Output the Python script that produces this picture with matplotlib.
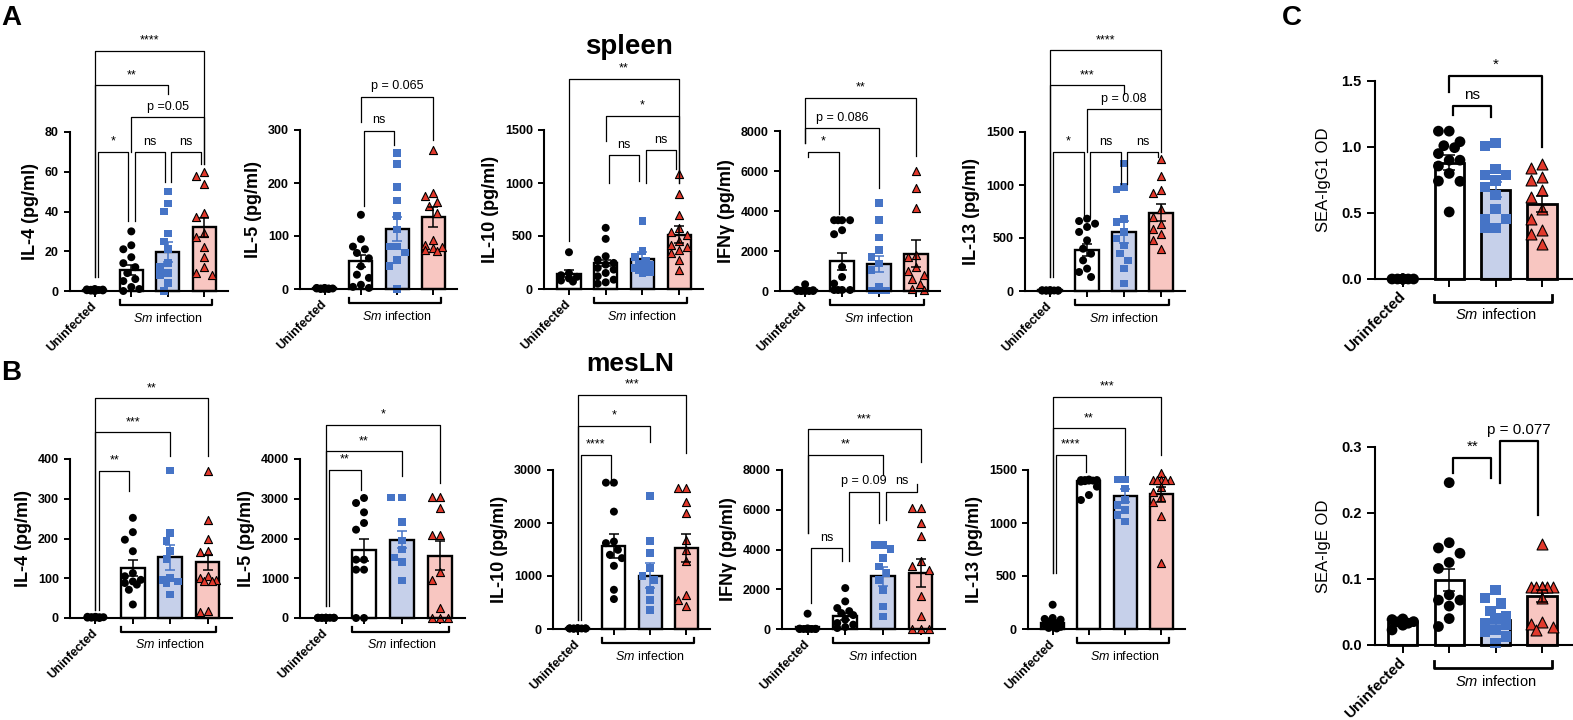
import numpy as np
import matplotlib.pyplot as plt
from matplotlib.transforms import offset_copy

plt.rcParams['font.family'] = ['Liberation Sans', 'DejaVu Sans']
plt.rcParams['mathtext.fontset'] = 'custom'
plt.rcParams['mathtext.it'] = 'Liberation Sans:italic'
plt.rcParams['mathtext.rm'] = 'Liberation Sans'

W, H = 1573, 720

# ---------------- data ----------------
# group order: Uninfected, Sm group 1 (white), Sm group 2 (blue), Sm group 3 (red)
# sig brackets: (bar i, bar j, level, leg end at i, leg end at j, label)

# A  spleen
spl_il4_mean = [0.5, 10.6, 19.8, 32.0]
spl_il4_sem = [0.15, 2.7, 5.0, 4.6]
spl_il4_pts = [[0, 0.3, 0.5, 0.7, 0.4, 0.8, 0.2, 1.0, 0.6, 0.5],
               [30, 23, 21, 17, 14, 12, 9, 6, 5, 2, 1, 0],
               [50, 44, 40, 29, 25, 21, 14, 12, 9, 8, 4, 0],
               [60, 58, 54, 39, 37, 29, 27, 22, 17, 12, 9, 8]]
spl_il4_sig = [(0, 3, 121, 7, 64, '****'), (0, 2, 103.5, 7, 99, '**'),
               (1, 3, 87.7, 70, 64, 'p =0.05'), (0, 1, 70, 7, 35, '*'),
               (1, 2, 70, 35, 55, 'ns'), (2, 3, 70, 55, 64, 'ns')]

spl_il5_mean = [1, 53, 113, 136]
spl_il5_sem = [0.3, 11, 22, 19]
spl_il5_pts = [[1, 0, 2, 1, 0, 1, 2, 0, 1, 1],
               [140, 94, 80, 75, 68, 58, 43, 27, 21, 8, 4, 2],
               [257, 236, 192, 167, 138, 112, 80, 80, 69, 55, 43, 0],
               [262, 181, 175, 165, 156, 143, 93, 83, 80, 77, 74, 71]]
spl_il5_sig = [(1, 3, 363, 316, 281, 'p = 0.065'), (1, 2, 299, 156, 272, 'ns')]

spl_il10_mean = [145, 246, 287, 514]
spl_il10_sem = [31, 31, 60, 80]
spl_il10_pts = [[347, 150, 130, 115, 100, 80, 70],
                [577, 473, 309, 277, 246, 230, 199, 183, 151, 120, 88, 63, 50],
                [640, 356, 300, 262, 240, 230, 214, 200, 189, 176, 160, 151],
                [1081, 898, 700, 577, 540, 514, 451, 419, 400, 372, 340, 277, 176]]
spl_il10_sig = [(0, 3, 1985, 450, 1000, '**'), (1, 3, 1632, 1396, 1000, '*'),
                (1, 2, 1261, 1002, 1018, 'ns'), (2, 3, 1311, 1002, 1128, 'ns')]

spl_ifng_mean = [50, 1490, 1336, 1870]
spl_ifng_sem = [30, 430, 400, 670]
spl_ifng_pts = [[334, 60, 40, 20, 10, 0, 0, 0, 0, 0],
                [3540, 3540, 3540, 3540, 3040, 2840, 1200, 700, 370, 50, 50, 50, 50],
                [4409, 3540, 2672, 2037, 1703, 1369, 1035, 200, 30, 30, 30, 30, 30],
                [6012, 5160, 4175, 1800, 1700, 1200, 1000, 785, 600, 370, 100, 30]]
spl_ifng_sig = [(0, 3, 9670, 7381, 6747, '**'), (0, 2, 8133, 7381, 5127, 'p = 0.086'),
                (0, 1, 6964, 6700, 3874, '*')]

spl_il13_mean = [5, 390, 557, 739]
spl_il13_sem = [1, 57, 103, 79]
spl_il13_pts = [[5, 3, 8, 2, 6, 4, 7, 5, 3, 6],
                [682, 660, 635, 604, 557, 478, 399, 352, 289, 211, 179, 132],
                [1201, 981, 956, 682, 651, 557, 494, 431, 352, 289, 211, 69],
                [1248, 1082, 956, 925, 777, 698, 635, 588, 541, 478, 399]]
spl_il13_sig = [(0, 3, 2270, 132, 1720, '****'), (0, 2, 1940, 132, 1855, '***'),
                (1, 3, 1720, 1311, 1311, 'p = 0.08'), (0, 1, 1311, 132, 698, '*'),
                (1, 2, 1311, 698, 1012, 'ns'), (2, 3, 1311, 1012, 1264, 'ns')]

# B  mesLN
mln_il4_mean = [1, 126, 153, 140]
mln_il4_sem = [0.3, 21, 31, 19]
mln_il4_pts = [[2, 1, 3, 0, 2, 1, 2, 3, 1, 2],
               [252, 216, 197, 168, 113, 105, 96, 92, 88, 84, 71, 34],
               [371, 214, 193, 168, 148, 100, 96, 92, 88, 59],
               [371, 246, 199, 168, 165, 105, 100, 96, 94, 92, 17, 14]]
mln_il4_sig = [(0, 3, 553, 21, 407, '**'), (0, 2, 467, 21, 407, '***'),
               (0, 1, 371, 21, 319, '**')]

mln_il5_mean = [5, 1719, 1971, 1568]
mln_il5_sem = [1, 277, 209, 361]
mln_il5_pts = [[6, 4, 5, 7, 3, 5, 6, 4, 5, 5],
               [3019, 2893, 2658, 2390, 2222, 1468, 1468, 1216, 1216, 0, 0],
               [3036, 3036, 2415, 1945, 1719, 1526, 1409, 939],
               [3036, 3036, 2767, 2096, 2096, 1149, 964, 252, 0, 0, 0]]
mln_il5_sig = [(0, 3, 4864, 293, 3396, '*'), (0, 2, 4193, 293, 3564, '**'),
               (0, 1, 3732, 293, 3228, '**')]

mln_il10_mean = [10, 1568, 1004, 1525]
mln_il10_sem = [3, 228, 239, 270]
mln_il10_pts = [[8, 12, 10, 5, 15, 10, 9, 11, 10, 10],
                [2761, 2761, 2215, 1650, 1620, 1494, 1400, 1337, 1192, 740, 565],
                [2511, 1663, 1431, 1149, 1004, 929, 740, 552, 364],
                [2655, 2655, 2403, 2196, 1682, 1494, 1274, 646, 552, 426]]
mln_il10_sig = [(0, 3, 4420, 175, 3314, '***'), (0, 2, 3834, 175, 3533, '*'),
                (0, 1, 3282, 175, 2717, '****')]

mln_ifng_mean = [80, 636, 2644, 2814]
mln_ifng_sem = [60, 170, 470, 720]
mln_ifng_pts = [[770, 30, 20, 10, 0, 0, 0, 0, 0, 0],
                [2059, 1389, 1054, 900, 803, 700, 469, 300, 218, 100, 50],
                [4234, 4234, 4033, 3565, 3146, 2812, 2477, 1975, 1138, 636],
                [6111, 6111, 5327, 4688, 3397, 3146, 2980, 1638, 633, 0, 0, 0]]
mln_ifng_sig = [(0, 3, 10042, 4820, 8422, '***'), (0, 2, 8753, 4820, 7749, '**'),
                (0, 1, 4067, 1300, 3397, 'ns'), (1, 2, 6912, 3397, 5322, 'p = 0.09'),
                (2, 3, 6912, 5490, 7300, 'ns')]

mln_il13_mean = [56, 1395, 1258, 1271]
mln_il13_sem = [20, 20, 63, 72]
mln_il13_pts = [[229, 104, 95, 88, 70, 56, 40, 30, 20, 10, 5],
                [1410, 1405, 1405, 1405, 1400, 1400, 1395, 1390, 1343, 1264, 1217],
                [1412, 1412, 1327, 1217, 1170, 1123, 1076, 1013],
                [1468, 1405, 1405, 1405, 1405, 1405, 1343, 1296, 1249, 1202, 1067, 621]]
mln_il13_sig = [(0, 3, 2190, 527, 1641, '***'), (0, 2, 1892, 527, 1453, '**'),
                (0, 1, 1641, 527, 1484, '****')]

# C  serum SEA-specific antibodies
igg1_mean = [0.0, 0.881, 0.677, 0.571]
igg1_sem = [0.0, 0.056, 0.058, 0.06]
igg1_pts = [[0, 0, 0, 0, 0, 0, 0, 0, 0, 0],
            [1.12, 1.12, 1.04, 1.01, 0.995, 0.95, 0.90, 0.90, 0.856, 0.80, 0.742, 0.74, 0.508],
            [1.03, 1.01, 0.836, 0.79, 0.79, 0.747, 0.697, 0.634, 0.533, 0.457, 0.457, 0.386, 0.386],
            [0.869, 0.843, 0.773, 0.747, 0.672, 0.621, 0.533, 0.457, 0.369, 0.343, 0.268]]
igg1_sig = [(1, 3, 1.535, 1.417, 1.0, '*'), (1, 2, 1.308, 1.24, 1.227, 'ns')]

ige_mean = [0.0339, 0.0987, 0.038, 0.0744]
ige_sem = [0.003, 0.017, 0.0075, 0.0086]
ige_pts = [[0.0395, 0.0385, 0.0354, 0.035, 0.033, 0.030, 0.0228],
           [0.246, 0.155, 0.147, 0.139, 0.125, 0.116, 0.076, 0.068, 0.068, 0.059, 0.040, 0.028],
           [0.083, 0.071, 0.063, 0.051, 0.043, 0.040, 0.033, 0.030, 0.023, 0.020, 0.013, 0.003],
           [0.153, 0.0885, 0.0885, 0.0885, 0.0885, 0.0885, 0.0885, 0.071, 0.035, 0.032, 0.028, 0.023]]
ige_sig = [(1, 2, 0.2833, 0.2605, 0.253, '**'), (2, 3, 0.3086, 0.245, 0.197, 'p = 0.077')]

# ---------------- styling ----------------
BLUE = '#4674c6'
RED = '#e2392c'
FILLS = ['white', 'white', '#c6d0ea', '#f8c6c1']
ECOL = ['black', 'black', BLUE, 'black']


def swarm(vals, ytop, hpx, upx, diam, maxoff=0.3):
    # spread points sideways so that they do not overlap (in pixels)
    vals = np.asarray(vals, float)
    step = diam * 0.5 / upx
    cands = [0.0]
    k = 1
    while k * step <= maxoff:
        cands += [-k * step, k * step]
        k += 1
    placed = []
    offs = np.zeros(len(vals))
    for idx in np.argsort(-vals, kind='stable'):
        y = vals[idx] / ytop * hpx
        best, bestc, bestd = None, 0.0, -1
        for c in cands:
            d = min([np.hypot((c - o) * upx, y - py) for o, py in placed], default=1e9)
            if d >= diam * 1.15:
                best = c
                break
            if d > bestd:
                bestd, bestc = d, c
        if best is None:
            best = bestc
        placed.append((best, y))
        offs[idx] = best
    return offs


def panel(fig, geom, mean, sem, pts, sig, yticks, ylabel, big=False):
    l, r, t, b = geom
    ax = fig.add_axes([l / W, 1 - b / H, (r - l) / W, (b - t) / H])
    xl = (-0.6, 3.67) if big else (-0.68, 3.65)
    ax.set_xlim(*xl)
    ytop = yticks[-1]
    ax.set_ylim(0, ytop)
    hpx, wpx = b - t, r - l
    upx = wpx / (xl[1] - xl[0])
    x = np.arange(4)

    ax.bar(x, mean, width=0.63, color=FILLS, edgecolor='black',
           linewidth=2.0 if big else 1.7, zorder=1, clip_on=False)
    sc = 1.35 if big else 1.0
    marks = [('o', 'black', 'none', 33), ('o', 'black', 'none', 33),
             ('s', BLUE, 'none', 30), ('^', RED, 'black', 34)]
    for k in range(4):
        m, fc, ec, s = marks[k]
        diam = np.sqrt(s * sc * sc) / 0.72
        offs = swarm(pts[k], ytop, hpx, upx, diam)
        ax.scatter(k + offs, pts[k], marker=m, s=s * sc * sc, facecolor=fc,
                   edgecolor=ec, linewidth=0.8 if ec != 'none' else 0,
                   zorder=2, clip_on=False)
        ax.errorbar(k, mean[k], yerr=sem[k], fmt='none', ecolor=ECOL[k],
                    elinewidth=1.1, capsize=4.5 if big else 3.6, capthick=1.1,
                    zorder=3, clip_on=False)

    for side in ['top', 'right']:
        ax.spines[side].set_visible(False)
    for side in ['left', 'bottom']:
        ax.spines[side].set_linewidth(1.5)
    ax.tick_params(width=1.4, length=6 if big else 4.5, direction='out')

    fmt = (lambda v: f'{v:.1f}') if ytop < 5 else (lambda v: f'{int(v)}')
    ax.set_yticks(yticks, labels=[fmt(v) for v in yticks], fontweight='bold',
                  fontsize=10.5 if big else 9)
    ax.set_xticks(x, labels=['Uninfected', '', '', ''], rotation=45, ha='right',
                  va='center', rotation_mode='anchor', fontweight='bold',
                  fontsize=11 if big else 9)
    ax.tick_params(axis='x', pad=5)
    if big:
        ax.set_ylabel(ylabel, fontsize=12, labelpad=7)
    else:
        ax.set_ylabel(ylabel, fontsize=13, fontweight='bold', labelpad=4)

    # "Sm infection" bracket under the three infected groups
    dy = 23 if big else 14
    tr = offset_copy(ax.get_xaxis_transform(), fig=fig, y=-dy, units='dots')
    tick = (7 if big else 5) / hpx
    ax.plot([1 - 0.32, 1 - 0.32, 3 + 0.22, 3 + 0.22], [tick, 0, 0, tick],
            color='black', lw=2.0 if big else 1.6, transform=tr, clip_on=False)
    tr2 = offset_copy(ax.get_xaxis_transform(), fig=fig, y=-dy - 13, units='dots')
    ax.text(2, 0, r'$\mathit{Sm}$ infection', transform=tr2, ha='center',
            va='center', fontsize=10.5 if big else 9)

    # significance brackets
    for i, j, lev, ei, ej, lab in sig:
        sh = 0.09 if j - i == 1 else 0.0
        xi, xj = i + sh, j - sh
        ax.plot([xi, xi, xj, xj], [ei, lev, lev, ej], color='black',
                lw=1.6 if big else 0.9, clip_on=False, zorder=4)
        fs = (11 if big else 9)
        ax.annotate(lab, ((xi + xj) / 2, lev), xytext=(0, 3), textcoords='offset points',
                    ha='center', va='bottom', fontsize=fs, annotation_clip=False)
    return ax


fig = plt.figure(figsize=(W / 100, H / 100), dpi=100)

panel(fig, (70, 228, 132, 291), spl_il4_mean, spl_il4_sem, spl_il4_pts, spl_il4_sig,
      [0, 20, 40, 60, 80], 'IL-4 (pg/ml)')
panel(fig, (300, 457, 130, 289), spl_il5_mean, spl_il5_sem, spl_il5_pts, spl_il5_sig,
      [0, 100, 200, 300], 'IL-5 (pg/ml)')
panel(fig, (544, 703, 130, 289), spl_il10_mean, spl_il10_sem, spl_il10_pts, spl_il10_sig,
      [0, 500, 1000, 1500], 'IL-10 (pg/ml)')
panel(fig, (780, 940, 131, 291), spl_ifng_mean, spl_ifng_sem, spl_ifng_pts, spl_ifng_sig,
      [0, 2000, 4000, 6000, 8000], 'IFNγ (pg/ml)')
panel(fig, (1025, 1185, 132, 291), spl_il13_mean, spl_il13_sem, spl_il13_pts, spl_il13_sig,
      [0, 500, 1000, 1500], 'IL-13 (pg/ml)')

panel(fig, (70, 232, 459, 618), mln_il4_mean, mln_il4_sem, mln_il4_pts, mln_il4_sig,
      [0, 100, 200, 300, 400], 'IL-4 (pg/ml)')
panel(fig, (300, 465, 459, 618), mln_il5_mean, mln_il5_sem, mln_il5_pts, mln_il5_sig,
      [0, 1000, 2000, 3000, 4000], 'IL-5 (pg/ml)')
panel(fig, (553, 710, 470, 629), mln_il10_mean, mln_il10_sem, mln_il10_pts, mln_il10_sig,
      [0, 1000, 2000, 3000], 'IL-10 (pg/ml)')
panel(fig, (782, 945, 470, 629), mln_ifng_mean, mln_ifng_sem, mln_ifng_pts, mln_ifng_sig,
      [0, 2000, 4000, 6000, 8000], 'IFNγ (pg/ml)')
panel(fig, (1028, 1185, 470, 629), mln_il13_mean, mln_il13_sem, mln_il13_pts, mln_il13_sig,
      [0, 500, 1000, 1500], 'IL-13 (pg/ml)')

panel(fig, (1375, 1573, 81, 279), igg1_mean, igg1_sem, igg1_pts, igg1_sig,
      [0.0, 0.5, 1.0, 1.5], 'SEA-IgG1 OD', big=True)
panel(fig, (1375, 1573, 447, 645), ige_mean, ige_sem, ige_pts, ige_sig,
      [0.0, 0.1, 0.2, 0.3], 'SEA-IgE OD', big=True)

fig.text(629 / W, 1 - 54 / H, 'spleen', ha='center', va='baseline',
         fontsize=20, fontweight='bold')
fig.text(630 / W, 1 - 371 / H, 'mesLN', ha='center', va='baseline',
         fontsize=19, fontweight='bold')
fig.text(1 / W, 1 - 25 / H, 'A', va='baseline', fontsize=20, fontweight='bold')
fig.text(1 / W, 1 - 380 / H, 'B', va='baseline', fontsize=20, fontweight='bold')
fig.text(1282 / W, 1 - 25 / H, 'C', va='baseline', fontsize=20, fontweight='bold')

fig.savefig('out.png', dpi=100)
